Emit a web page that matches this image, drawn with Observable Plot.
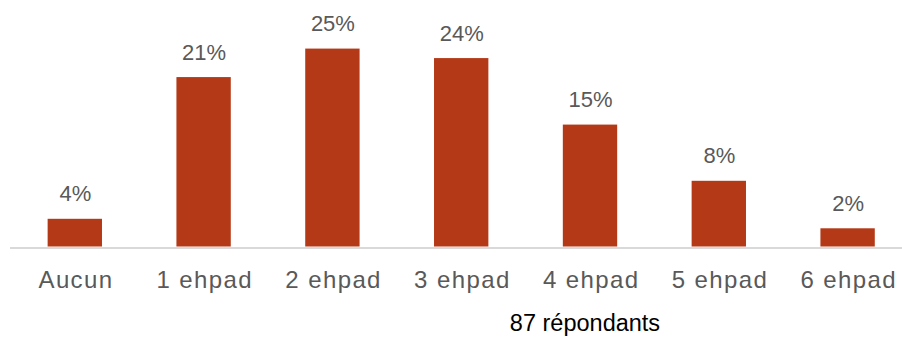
<!DOCTYPE html>
<html>
<head>
<meta charset="utf-8">
<script src="https://cdn.jsdelivr.net/npm/d3@7"></script>
<script src="https://cdn.jsdelivr.net/npm/@observablehq/plot@0.6"></script>
<style>
  html, body { margin: 0; padding: 0; background: #fff; }
  #wrap { position: relative; width: 902px; height: 338px; overflow: hidden; }
  #caption { position: absolute; left: 0; width: 1170px; top: 312px; text-align: center;
    font-family: "Liberation Sans", Arial, sans-serif; font-size: 23.5px; line-height: 23px; color: #000; }
  #chart svg g[aria-label="x-axis tick label"] text { letter-spacing: 1.4px; }
</style>
</head>
<body>
<div id="wrap"><div id="chart"></div><div id="caption">87 répondants</div></div>
<script>
const categories = ["Aucun", "1 ehpad", "2 ehpad", "3 ehpad", "4 ehpad", "5 ehpad", "6 ehpad"];
const values = [3.5, 21.4, 25.0, 23.8, 15.4, 8.3, 2.3];
const labels = ["4%", "21%", "25%", "24%", "15%", "8%", "2%"];

const data = categories.map((c, i) => ({cat: c, value: values[i], label: labels[i]}));

const chart = Plot.plot({
  width: 902,
  height: 305,
  marginLeft: 10,
  marginRight: 0,
  marginTop: 9,
  marginBottom: 58.5,
  style: {fontFamily: "'Liberation Sans', Arial, sans-serif", background: "#fff"},
  x: {domain: categories, range: [10.4, 912], paddingInner: 0.578, paddingOuter: 0.289, round: false, label: null},
  y: {domain: [0, 30], axis: null},
  marks: [
    Plot.ruleY([0], {stroke: "#d9d9d9", strokeWidth: 2, dy: 1}),
    Plot.barY(data, {x: "cat", y: "value", fill: "#b43916"}),
    Plot.text(data, {x: "cat", y: "value", text: "label", dy: -25, fontSize: 22, fill: "#595959"}),
    Plot.axisX({tickSize: 0, tickPadding: 23.5, fontSize: 24, dx: 0.7, color: "#595959", label: null})
  ]
});
document.getElementById("chart").appendChild(chart);
</script>
</body>
</html>
